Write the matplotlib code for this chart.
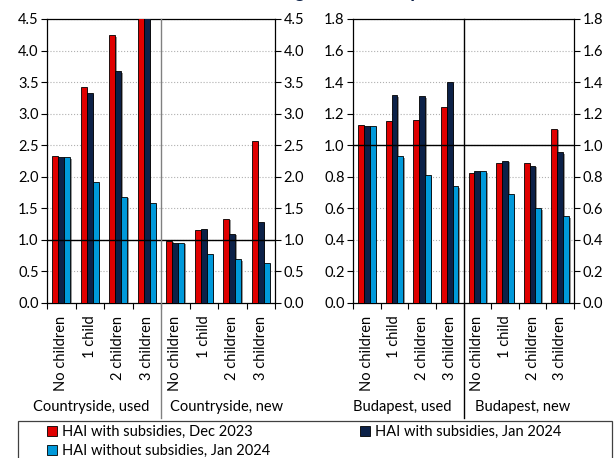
import numpy as np
import matplotlib
matplotlib.use("Agg")
import matplotlib.pyplot as plt
import matplotlib.patheffects as pe
from matplotlib.patches import Rectangle

plt.rcParams['font.family'] = ['Lato', 'DejaVu Sans']
plt.rcParams['font.size'] = 10

#==============================================================================#
#                               Data
#==============================================================================#
categories = ['No children', '1 child', '2 children', '3 children'] * 2
left_groups = ['Countryside, used', 'Countryside, new']
right_groups = ['Budapest, used', 'Budapest, new']
series_names = ['HAI with subsidies, Dec 2023',
                'HAI with subsidies, Jan 2024',
                'HAI without subsidies, Jan 2024']

# countryside: used (first 4) then new (last 4)
country_dec23 = [2.33, 3.42, 4.24, 5.40, 0.99, 1.16, 1.33, 2.57]
country_jan24 = [2.31, 3.32, 3.67, 4.90, 0.95, 1.18, 1.10, 1.29]
country_nosub = [2.31, 1.91, 1.68, 1.58, 0.95, 0.78, 0.69, 0.64]

# Budapest: used (first 4) then new (last 4)
bp_dec23 = [1.126, 1.153, 1.160, 1.245, 0.825, 0.885, 0.885, 1.105]
bp_jan24 = [1.123, 1.317, 1.310, 1.400, 0.834, 0.900, 0.870, 0.956]
bp_nosub = [1.123, 0.930, 0.810, 0.740, 0.834, 0.690, 0.600, 0.550]

colors = ['#E00000', '#0C2148', '#0099DA']

#==============================================================================#
#                               Figure
#==============================================================================#
W, H = 615, 458
fig = plt.figure(figsize=(W / 100, H / 100), dpi=100)


def fx(px):
    return px / W


def fy(px):
    return 1 - px / H


ax_top, ax_bot = 19, 303
ax1 = fig.add_axes([fx(47), fy(ax_bot), fx(275) - fx(47), fy(ax_top) - fy(ax_bot)])
ax2 = fig.add_axes([fx(353), fy(ax_bot), fx(574) - fx(353), fy(ax_top) - fy(ax_bot)])

shadow = [pe.SimplePatchShadow(offset=(1.2, -1.0), shadow_rgbFace='#8c8c8c', alpha=0.9),
          pe.Normal()]


def draw_panel(ax, series, ymax, ystep, groups, group_x, sep_color):
    x = np.arange(len(categories))
    w = 0.21
    for i, vals in enumerate(series):
        ax.bar(x + (i - 1) * w, vals, width=w, color=colors[i], edgecolor='black',
               linewidth=0.6, path_effects=shadow, zorder=3)
    ax.set_xlim(-0.5, len(categories) - 0.5)
    ax.set_ylim(0, ymax)
    ticks = np.arange(0, ymax + ystep / 2, ystep)
    ax.set_yticks(ticks)
    ax.set_yticklabels(['%.1f' % t for t in ticks])
    ax.tick_params(axis='y', left=True, right=True, labelleft=True, labelright=True,
                   direction='out', length=4, width=0.8, pad=2, labelsize=10.5)
    ax.yaxis.grid(True, linestyle=':', color='#b0b0b0', linewidth=0.8, zorder=0)
    ax.set_axisbelow(True)
    ax.axhline(1.0, color='black', linewidth=1.0, zorder=4)

    # category labels at centres, tick marks at group boundaries
    ax.set_xticks(x)
    ax.set_xticklabels(categories, rotation=90, va='top', ha='center')
    ax.tick_params(axis='x', which='major', length=0, pad=9, labelsize=10.5)
    ax.set_xticks(np.arange(-0.5, len(categories)), minor=True)
    ax.tick_params(axis='x', which='minor', length=4, width=0.8, direction='out')

    for s in ax.spines.values():
        s.set_linewidth(0.9)

    # divider between the two housing types, running down into the labels
    ax.plot([3.5, 3.5], [1, -0.405], transform=ax.get_xaxis_transform(),
            color=sep_color, linewidth=1.0, clip_on=False, zorder=5)
    for name, gx in zip(groups, group_x):
        fig.text(fx(gx), fy(407), name, ha='center', va='center', fontsize=10.5)


draw_panel(ax1, [country_dec23, country_jan24, country_nosub], 4.5, 0.5,
           left_groups, [91, 227], '#808080')
draw_panel(ax2, [bp_dec23, bp_jan24, bp_nosub], 1.8, 0.2,
           right_groups, [402, 523], 'black')

# chart title, mostly above the visible area
fig.text(fx(420), fy(-2.5), 'Housing affordability', ha='right', va='baseline',
         fontsize=15, fontweight='bold', fontstyle='italic', color='#0C2148')

# legend box
fig.patches.append(Rectangle((fx(18), fy(470)), fx(612) - fx(18), fy(421) - fy(470),
                             transform=fig.transFigure, fill=False,
                             edgecolor='#404040', linewidth=0.9))
handles = [Rectangle((0, 0), 1, 1, facecolor=c, edgecolor='black', linewidth=0.6)
           for c in colors]
fig.legend([handles[0], handles[2], handles[1]],
           [series_names[0], series_names[2], series_names[1]],
           loc='upper left', bbox_to_anchor=(fx(44), fy(422)), ncol=2,
           frameon=False, fontsize=10.5, handlelength=0.7, handleheight=0.7,
           handletextpad=0.3, columnspacing=6.2, labelspacing=0.35,
           borderaxespad=0, borderpad=0.2)

fig.savefig('out.png', dpi=100)
